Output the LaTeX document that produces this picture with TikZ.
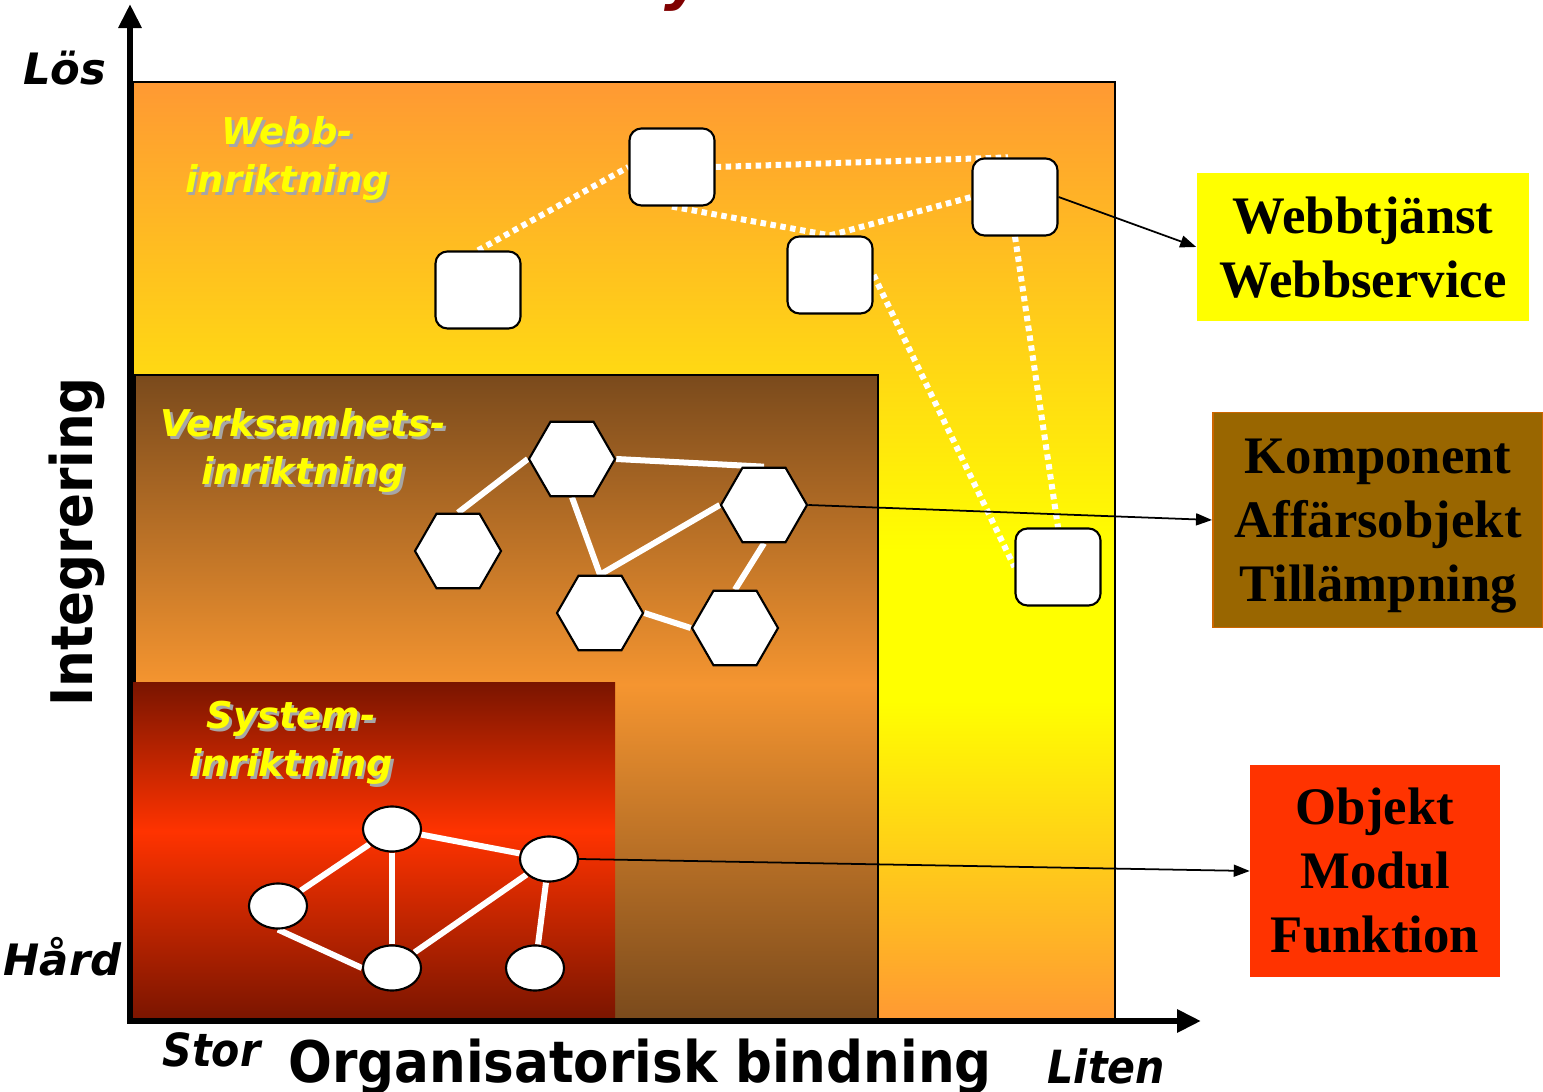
\documentclass[tikz,border=0pt]{standalone}
\usepackage{fontspec}
\setmainfont{Liberation Serif}
\newfontfamily\verd{DejaVu Sans}[BoldFont={DejaVu Sans Bold},BoldItalicFont={DejaVu Sans Bold Oblique}]
\newfontfamily\verdc{DejaVu Sans Condensed}[BoldFont={DejaVu Sans Condensed Bold},BoldItalicFont={DejaVu Sans Condensed Bold Oblique}]
\usetikzlibrary{shapes.geometric,arrows.meta}
\pgfdeclarelayer{zones}
\pgfdeclarelayer{edges}
\pgfsetlayers{zones,edges,main}
\definecolor{webb orange}{HTML}{FF9933}
\definecolor{webb yellow}{HTML}{FFFF00}
\definecolor{brown dark}{HTML}{7A4A1C}
\definecolor{brown light}{HTML}{F59530}
\definecolor{red dark}{HTML}{7A1500}
\definecolor{red light}{HTML}{FF3300}
\definecolor{komp fill}{HTML}{996600}
\definecolor{komp edge}{HTML}{CC6600}
\definecolor{title red}{HTML}{800000}
\colorlet{shadow gray}{black!35}
\pgfdeclareverticalshading{webbshade}{100bp}{color(0bp)=(webb orange); color(25bp)=(webb orange); color(42bp)=(webb yellow); color(50bp)=(webb yellow); color(75bp)=(webb orange); color(100bp)=(webb orange)}
\pgfdeclareverticalshading{verkshade}{100bp}{color(0bp)=(brown dark); color(25bp)=(brown dark); color(51bp)=(brown light); color(75bp)=(brown dark); color(100bp)=(brown dark)}
\pgfdeclareverticalshading{sysshade}{100bp}{color(0bp)=(red dark); color(25bp)=(red dark); color(53bp)=(red light); color(75bp)=(red dark); color(100bp)=(red dark)}
\newcommand{\shd}[1]{\makebox[0pt][l]{\hspace{0.8pt}\raisebox{-0.8pt}{\textcolor{shadow gray}{#1}}}#1}
\def\webbnodes{{(478,290)/w1}, {(672,167)/w2}, {(830,275)/w3}, {(1015,197)/w4}, {(1058,567)/w5}}
\def\verknodes{{(458,551)/h1}, {(572,459)/h2}, {(764,505)/h3}, {(600,613)/h4}, {(735,628)/h5}}
\def\sysnodes{{(278,906)/e1}, {(392,829)/e2}, {(549,859)/e3}, {(392,968)/e4}, {(535,968)/e5}}
\tikzstyle{webb box}=[draw=black, line width=0.6pt, fill=white, rounded corners=0.12cm, minimum width=0.85cm, minimum height=0.77cm, inner sep=0pt]
\tikzstyle{hex}=[draw=black, line width=0.6pt, fill=white, regular polygon, regular polygon sides=6, minimum size=0.86cm, inner sep=0pt]
\tikzstyle{oval}=[draw=black, line width=0.6pt, fill=white, ellipse, minimum width=0.58cm, minimum height=0.45cm, inner sep=0pt]
\tikzstyle{dotted edge}=[draw=white, line width=0.06cm, dash pattern=on 0.055cm off 0.045cm]
\tikzstyle{white edge}=[draw=white, line width=0.06cm]
\tikzstyle{pointer}=[draw=black, line width=0.5pt, -{Triangle[length=0.16cm,width=0.12cm]}]
\tikzstyle{axis}=[draw=black, line width=0.06cm, -{Triangle[length=0.24cm,width=0.22cm]}]
\tikzstyle{zone label}=[align=center, text=webb yellow, font=\verd\bfseries\itshape\fontsize{10.5}{13.6}\selectfont]
\tikzstyle{term box}=[align=center, inner sep=0pt, font=\bfseries\fontsize{15}{18.2}\selectfont]
\tikzstyle{end label}=[inner sep=0pt, font=\verd\bfseries\itshape\fontsize{12.3}{12}\selectfont]
\tikzstyle{scale label}=[inner sep=0pt, font=\verdc\bfseries\itshape\fontsize{13}{13}\selectfont]

\begin{document}
\begin{tikzpicture}[x=0.01cm, y=-0.01cm]
  \useasboundingbox (0,0) rectangle (1543,1092);

  % what is left of the title
  \node[anchor=base, text=title red, font=\verd\bfseries\itshape\fontsize{17}{17}\selectfont] (title) at (684,-1) {y};

  % the three zones
  \begin{pgfonlayer}{zones}
    \shadedraw[shading=webbshade, draw=black, line width=0.4pt] (133,82) rectangle (1115,1020);
    \shadedraw[shading=verkshade, draw=black, line width=0.6pt] (135,375) rectangle (878,1020);
    \shade[shading=sysshade] (133,683) rectangle (615,1020);
  \end{pgfonlayer}

  % the axes
  \coordinate (origin) at (130,1021);
  \coordinate (ytop) at (130,4);
  \coordinate (xend) at (1201,1021);
  \draw[axis] ([yshift=-0.02cm]origin) -- (ytop);
  \draw[axis] ([xshift=-0.03cm]origin) -- (xend);

  \node[end label, anchor=base east] (los) at (107,85) {Lös};
  \node[end label, anchor=base east] (hard) at (122,975) {Hård};
  \node[scale label, anchor=base west] (stor) at (162,1066) {Stor};
  \node[scale label, anchor=base west] (liten) at (1047,1083) {Liten};
  \node[anchor=base, font=\verdc\bfseries\fontsize{16.3}{16}\selectfont] (xlabel) at (640,1082) {Organisatorisk bindning};
  \node[rotate=90, font=\verdc\bfseries\fontsize{16.3}{16}\selectfont] (ylabel) at (77,542) {Integrering};

  % zone names
  \node[zone label] (webblabel) at (287,160) {\shd{Webb-}\\\shd{inriktning}};
  \node[zone label] (verklabel) at (303,452) {\shd{Verksamhets-}\\\shd{inriktning}};
  \node[zone label] (syslabel) at (291,744) {\shd{System-}\\\shd{inriktning}};

  % the nodes in each zone
  \foreach \pos/\name in \webbnodes
    \node[webb box] (\name) at \pos {};
  \foreach \pos/\name in \verknodes
    \node[hex] (\name) at \pos {};
  \foreach \pos/\name in \sysnodes
    \node[oval] (\name) at \pos {};

  % the connections between them
  \begin{pgfonlayer}{edges}
    \foreach \source/\sink in {w1.north/w2.west, w2.east/w4.100, w2.south/w3.north, w3.north/w4.west, w3.east/w5.west, w4.south/w5.north}
      \path[dotted edge] (\source) -- (\sink);
    \foreach \source/\sink in {h1.north/h2.west, h2.east/h3.north, h2.south/h4.north, h4.north/h3.west, h4.east/h5.west, h3.south/h5.north}
      \path[white edge] (\source) -- (\sink);
    \foreach \source/\sink in {e1/e2, e2/e3, e2/e4, e1.south/e4.west, e4/e3, e3/e5}
      \path[white edge] (\source) -- (\sink);
  \end{pgfonlayer}

  % the terms on the right
  \node[term box, fill=webb yellow, minimum width=3.32cm, minimum height=1.47cm, text depth=0pt] (webbterm) at (1363,247) {Webbtjänst\\Webbservice};
  \node[term box, fill=komp fill, draw=komp edge, line width=0.5pt, minimum width=3.3cm, minimum height=2.15cm, text depth=0pt] (kompterm) at (1378,520) {Komponent\\Affärsobjekt\\Tillämpning};
  \node[term box, fill=red light, minimum width=2.49cm, minimum height=2.11cm] (objterm) at (1375,871) {Objekt\\Modul\\Funktion};

  \draw[pointer] (w4.east) -- (webbterm.west);
  \draw[pointer] (h3.east) -- (kompterm.west);
  \draw[pointer] (e3.east) -- (objterm.west);
\end{tikzpicture}
\end{document}
